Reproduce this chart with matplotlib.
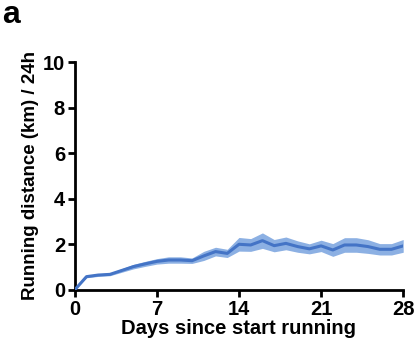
import matplotlib
matplotlib.use("Agg")
import matplotlib.pyplot as plt
import numpy as np

# Values
days = list(range(29))
mean_km = [0.0, 0.58, 0.65, 0.68, 0.85, 1.02, 1.14, 1.25, 1.31, 1.31, 1.28,
           1.49, 1.68, 1.60, 2.00, 1.97, 2.16, 1.94, 2.04, 1.90, 1.80,
           1.93, 1.75, 1.97, 1.97, 1.90, 1.78, 1.78, 1.93]
sem_km = [0.0, 0.05, 0.06, 0.06, 0.08, 0.10, 0.11, 0.12, 0.14, 0.14, 0.12,
          0.20, 0.19, 0.18, 0.30, 0.28, 0.34, 0.27, 0.28, 0.25, 0.22,
          0.25, 0.28, 0.32, 0.32, 0.30, 0.25, 0.25, 0.28]
x_ticks = [0, 7, 14, 21, 28]
y_ticks = [0, 2, 4, 6, 8, 10]

plt.rcParams["font.family"] = ["Liberation Sans", "DejaVu Sans"]
plt.rcParams["font.weight"] = "bold"

fig = plt.figure(figsize=(4.2, 3.41), dpi=100)
ax = fig.add_axes([0.178, 0.15, 0.782, 0.668])

mean_arr = np.array(mean_km)
sem_arr = np.array(sem_km)
ax.fill_between(days, mean_arr - sem_arr, mean_arr + sem_arr,
                color="#8cb0e3", linewidth=0, zorder=2)
ax.plot(days, mean_arr, color="#4474c6", linewidth=2.2, zorder=3)

ax.set_xlim(0, 28)
ax.set_ylim(0, 10)
ax.set_xticks(x_ticks)
ax.set_yticks(y_ticks)
ax.tick_params(width=2, length=5, labelsize=14.5, pad=2)
for lab in ax.get_xticklabels() + ax.get_yticklabels():
    lab.set_fontweight("bold")

for side in ["top", "right"]:
    ax.spines[side].set_visible(False)
for side in ["left", "bottom"]:
    ax.spines[side].set_linewidth(2)
    ax.spines[side].set_clip_on(False)

ax.set_xlabel("Days since start running", fontsize=14.5, fontweight="bold", labelpad=0)
ax.set_ylabel("Running distance (km) / 24h", fontsize=13.5, fontweight="bold", labelpad=3)

fig.text(0.005, 1.0, "a", fontsize=23, fontweight="bold", va="top", ha="left")

fig.savefig("out.png", dpi=100)
